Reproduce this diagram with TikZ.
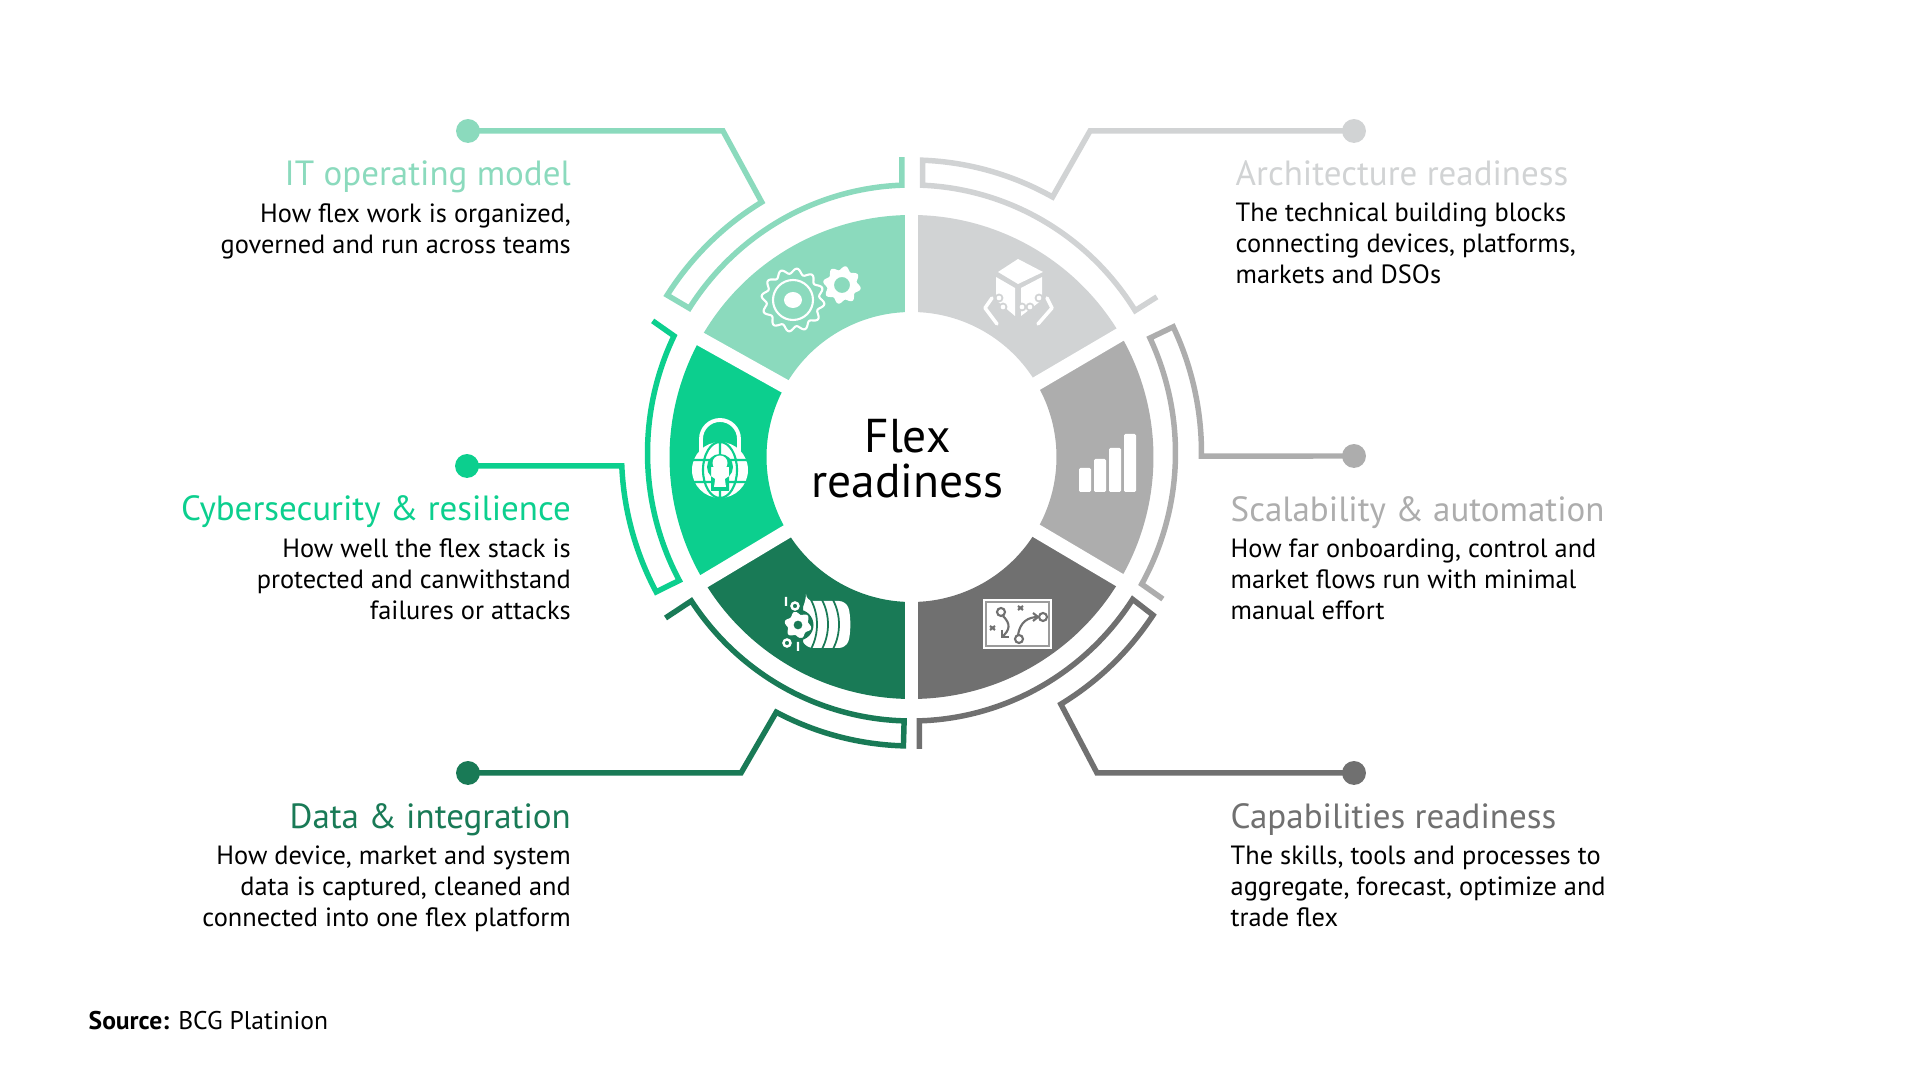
\documentclass[tikz,border=0pt]{standalone}
\usepackage{fontspec}
\setmainfont{PT Sans}
\definecolor{itcol}{HTML}{8BDABD}
\definecolor{cybercol}{HTML}{0CCF8E}
\definecolor{datacol}{HTML}{197A56}
\definecolor{archcol}{HTML}{D1D3D4}
\definecolor{scalecol}{HTML}{ADADAD}
\definecolor{capcol}{HTML}{707070}
\tikzset{
  ringline/.style={line width=1.56pt,fill=none},
  outerarc/.style={x radius=290,y radius=293},
  innerarc/.style={x radius=264,y radius=268},
  enddot/.style={circle,fill,inner sep=0pt,minimum size=6.8pt},
  headtext/.style={font=\fontsize{9.95}{11}\selectfont,inner sep=0pt},
  bodytext/.style={font=\fontsize{7.5}{8.8}\selectfont,inner sep=0pt,text=black},
}
\begin{document}
\begin{tikzpicture}[x=0.01cm,y=-0.01cm]
  \useasboundingbox (0,0) rectangle (1920,1080);
  % wheel
  \begin{scope}[shift={(911.5,457)},y=0.01cm]
    \fill[archcol] (90:145)--(90:242) arc (90:30.4:242)--(30.4:145) arc (30.4:90:145)--cycle;
    \fill[scalecol] (30.4:145)--(30.4:242) arc (30.4:-30.6:242)--(-30.6:145) arc (-30.6:30.4:145)--cycle;
    \fill[capcol] (-30.6:145)--(-30.6:242) arc (-30.6:-90:242)--(-90:145) arc (-90:-30.6:145)--cycle;
    \fill[datacol] (-90:145)--(-90:242) arc (-90:-149.1:242)--(-149.1:145) arc (-149.1:-90:145)--cycle;
    \fill[cybercol] (210.9:145)--(210.9:242) arc (210.9:150.8:242)--(150.8:145) arc (150.8:210.9:145)--cycle;
    \fill[itcol] (150.8:145)--(150.8:242) arc (150.8:90:242)--(90:145) arc (90:150.8:145)--cycle;
    \draw[white,line width=3.7pt] (90:125)--(90:250) (-90:125)--(-90:250);
    \foreach \a in {30.4,-30.6,210.9,150.8}
      \draw[white,line width=4pt] (\a:125)--(\a:250);
  \end{scope}
  \node[font=\fontsize{13.5}{12.8}\selectfont,align=center,inner sep=0pt] (flex) at (907.5,458.5) {Flex\\readiness};
  % end dots
  \node[enddot,itcol] (itdot) at (468,131) {};
  \node[enddot,cybercol] (cyberdot) at (467,466) {};
  \node[enddot,datacol] (datadot) at (468,773) {};
  \node[enddot,archcol] (archdot) at (1354,131) {};
  \node[enddot,scalecol] (scaledot) at (1354,456) {};
  \node[enddot,capcol] (capdot) at (1354,773) {};
  \coordinate (itbend) at (723,131);
  \coordinate (databend) at (741,773);
  \coordinate (archbend) at (1090,131);
  \coordinate (capbend) at (1097,773);
  % rings
  \begin{scope}[shift={(911.5,453)},y=0.01cm]
    \draw[ringline,itcol] (itdot.center)--(itbend)--(121.1:290 and 293)
      arc[outerarc,start angle=121.1,end angle=147.4]--(147.3:264 and 268)
      arc[innerarc,start angle=147.3,end angle=92.1]--++(0,28);
    \draw[ringline,archcol] (archdot.center)--(archbend)--(60.9:290 and 293)
      arc[outerarc,start angle=60.9,end angle=87.8]--(87.6:264 and 268)
      arc[innerarc,start angle=87.6,end angle=32.1]--(32.2:290 and 293);
    \draw[ringline,scalecol] (scaledot.center)--(-0.6:290 and 293)
      arc[outerarc,start angle=-0.6,end angle=25.5]--(25.4:264 and 268)
      arc[innerarc,start angle=25.4,end angle=-29.3]--(-29.9:290 and 293);
    \draw[ringline,capcol] (capdot.center)--(capbend)--(-59:290 and 293)
      arc[outerarc,start angle=-59,end angle=-33.6]--(-33.1:264 and 268)
      arc[innerarc,start angle=-33.1,end angle=-88.3]--++(0,-28);
    \draw[ringline,datacol] (datadot.center)--(databend)--(-117.8:290 and 293)
      arc[outerarc,start angle=-117.8,end angle=-91.6]--(-91.6:264 and 268)
      arc[innerarc,start angle=-91.6,end angle=-146.5]--(-246,-165);
    \draw[ringline,cybercol] (cyberdot.center)--(182.54:290 and 293)
      arc[outerarc,start angle=182.54,end angle=208.3]--(208.4:264 and 268)
      arc[innerarc,start angle=208.4,end angle=154.1]--(153.2:290 and 293);
  \end{scope}
  % headings and texts
  \node[headtext,itcol,anchor=base east] (ithead) at (571.5,186) {IT operating model};
  \node[bodytext,anchor=north east,align=right] (itbody) at (571.5,203) {How flex work is organized,\\governed and run across teams};
  \node[headtext,cybercol,anchor=base east] (cyberhead) at (571.5,521) {Cybersecurity \& resilience};
  \node[bodytext,anchor=north east,align=right] (cyberbody) at (571.5,538) {How well the flex stack is\\protected and canwithstand\\failures or attacks};
  \node[headtext,datacol,anchor=base east] (datahead) at (571.5,829) {Data \& integration};
  \node[bodytext,anchor=north east,align=right] (databody) at (571.5,845) {How device, market and system\\data is captured, cleaned and\\connected into one flex platform};
  \node[headtext,archcol,anchor=base west] (archhead) at (1235,186) {Architecture readiness};
  \node[bodytext,anchor=north west,align=left] (archbody) at (1235,202) {The technical building blocks\\connecting devices, platforms,\\markets and DSOs};
  \node[headtext,scalecol,anchor=base west] (scalehead) at (1230,522) {Scalability \& automation};
  \node[bodytext,anchor=north west,align=left] (scalebody) at (1230,538) {How far onboarding, control and\\market flows run with minimal\\manual effort};
  \node[headtext,capcol,anchor=base west] (caphead) at (1230,829) {Capabilities readiness};
  \node[bodytext,anchor=north west,align=left] (capbody) at (1230,845) {The skills, tools and processes to\\aggregate, forecast, optimize and\\trade flex};
  \node[bodytext,font=\fontsize{7.27}{8.8}\selectfont,anchor=base west] (source) at (88,1029.5) {\textbf{Source:} BCG Platinion};
  % gears
  \begin{scope}[shift={(793,300)}]
    \draw[white,line width=0.6pt] plot[domain=0:360,samples=145,smooth] (\x:{29+2.6*sin(12*\x)})--cycle;
    \draw[white,line width=0.6pt] (0,0) circle (20);
    \fill[white] (0,0) ellipse (9 and 8);
  \end{scope}
  \begin{scope}[shift={(842,285)}]
    \fill[white,even odd rule] plot[domain=0:360,samples=97,smooth] (\x:{17+2*sin(8*\x)})--cycle (0,0) circle (8);
  \end{scope}
  % box
  \fill[white] (1018,259)--(1043,272)--(1018,284)--(998,272)--cycle;
  \fill[white] (996,277)--(1015,288)--(1015,316)--(996,300)--cycle;
  \fill[white] (1042,277)--(1021,288)--(1021,316)--(1042,300)--cycle;
  \draw[white,line width=1pt,line cap=round,line join=round] (992,298)--(985,308)--(997,324);
  \draw[white,line width=1pt,line cap=round,line join=round] (1047,298)--(1052,308)--(1038,324);
  \foreach \x/\y in {999/298,1003/307,1022/307,1030/307,1039/298}
    \draw[archcol,fill=white,line width=0.5pt] (\x,\y) circle (3.5);
  % bars
  \foreach \x/\y in {1079/468,1094/459,1109/448,1124/434}
    \fill[white,rounded corners=0.4pt] (\x,\y) rectangle (\x+12,492);
  % lock
  \draw[white,line width=1.1pt] (701,452)--(701,439) arc (180:360:19)--(739,452);
  \fill[white] (720,470) circle (28);
  \begin{scope}[shift={(720,470)}]
    \draw[cybercol,line width=0.6pt] (0,0) ellipse (17 and 28) (0,-28)--(0,28) (-28,-10)--(28,-10) (-28,12)--(28,12);
    \fill[cybercol] (0,-3) circle (13) (-9,-3) rectangle (9,21);
    \fill[white] (0,-7) circle (7.5) (-3,-4)--(3,-4)--(6,17)--(-6,17)--cycle;
  \end{scope}
  % drum
  \fill[white,rounded corners=2pt] (806,601)--(846,601) .. controls (851,615) and (851,634) .. (846,648)--(806,648) .. controls (799,634) and (799,615) .. cycle;
  \foreach \x in {811,822,833}
    \draw[datacol,line width=0.5pt] (\x,600) .. controls (\x+8,615) and (\x+8,634) .. (\x,649);
  \fill[datacol] (798,625) circle (15.5);
  \fill[white,even odd rule] plot[domain=0:360,samples=61,smooth,shift={(798,625)}] (\x:{12+1.6*sin(6*\x)})--cycle (798,625) circle (4.5);
  \fill[datacol] (790,590) rectangle (803,612) (785,638) rectangle (803,655);
  \draw[white,line width=0.7pt] (795,606) circle (3.5) (787,643) circle (3.5) (786,597)--(786,606) (798,642)--(798,651);
  % map
  \fill[white] (983,599) rectangle (1052,649);
  \draw[capcol!70,line width=0.5pt] (986,602) rectangle (1049,646);
  \begin{scope}[capcol,line width=0.6pt]
    \draw (1001,612) circle (4) (1019,639) circle (4) (1043,617) circle (4);
    \draw (1003,616) .. controls (1011,624) and (1010,630) .. (1002,637);
    \draw (1002,630)--(1002,637)--(1009,637);
    \draw (1018,635) .. controls (1020,622) and (1028,617) .. (1038,617);
    \draw (1033,613)--(1038,617)--(1033,621);
    \draw (1018,606)--(1023,610) (1023,606)--(1018,610) (990,626)--(995,630) (995,626)--(990,630);
  \end{scope}
\end{tikzpicture}
\end{document}
